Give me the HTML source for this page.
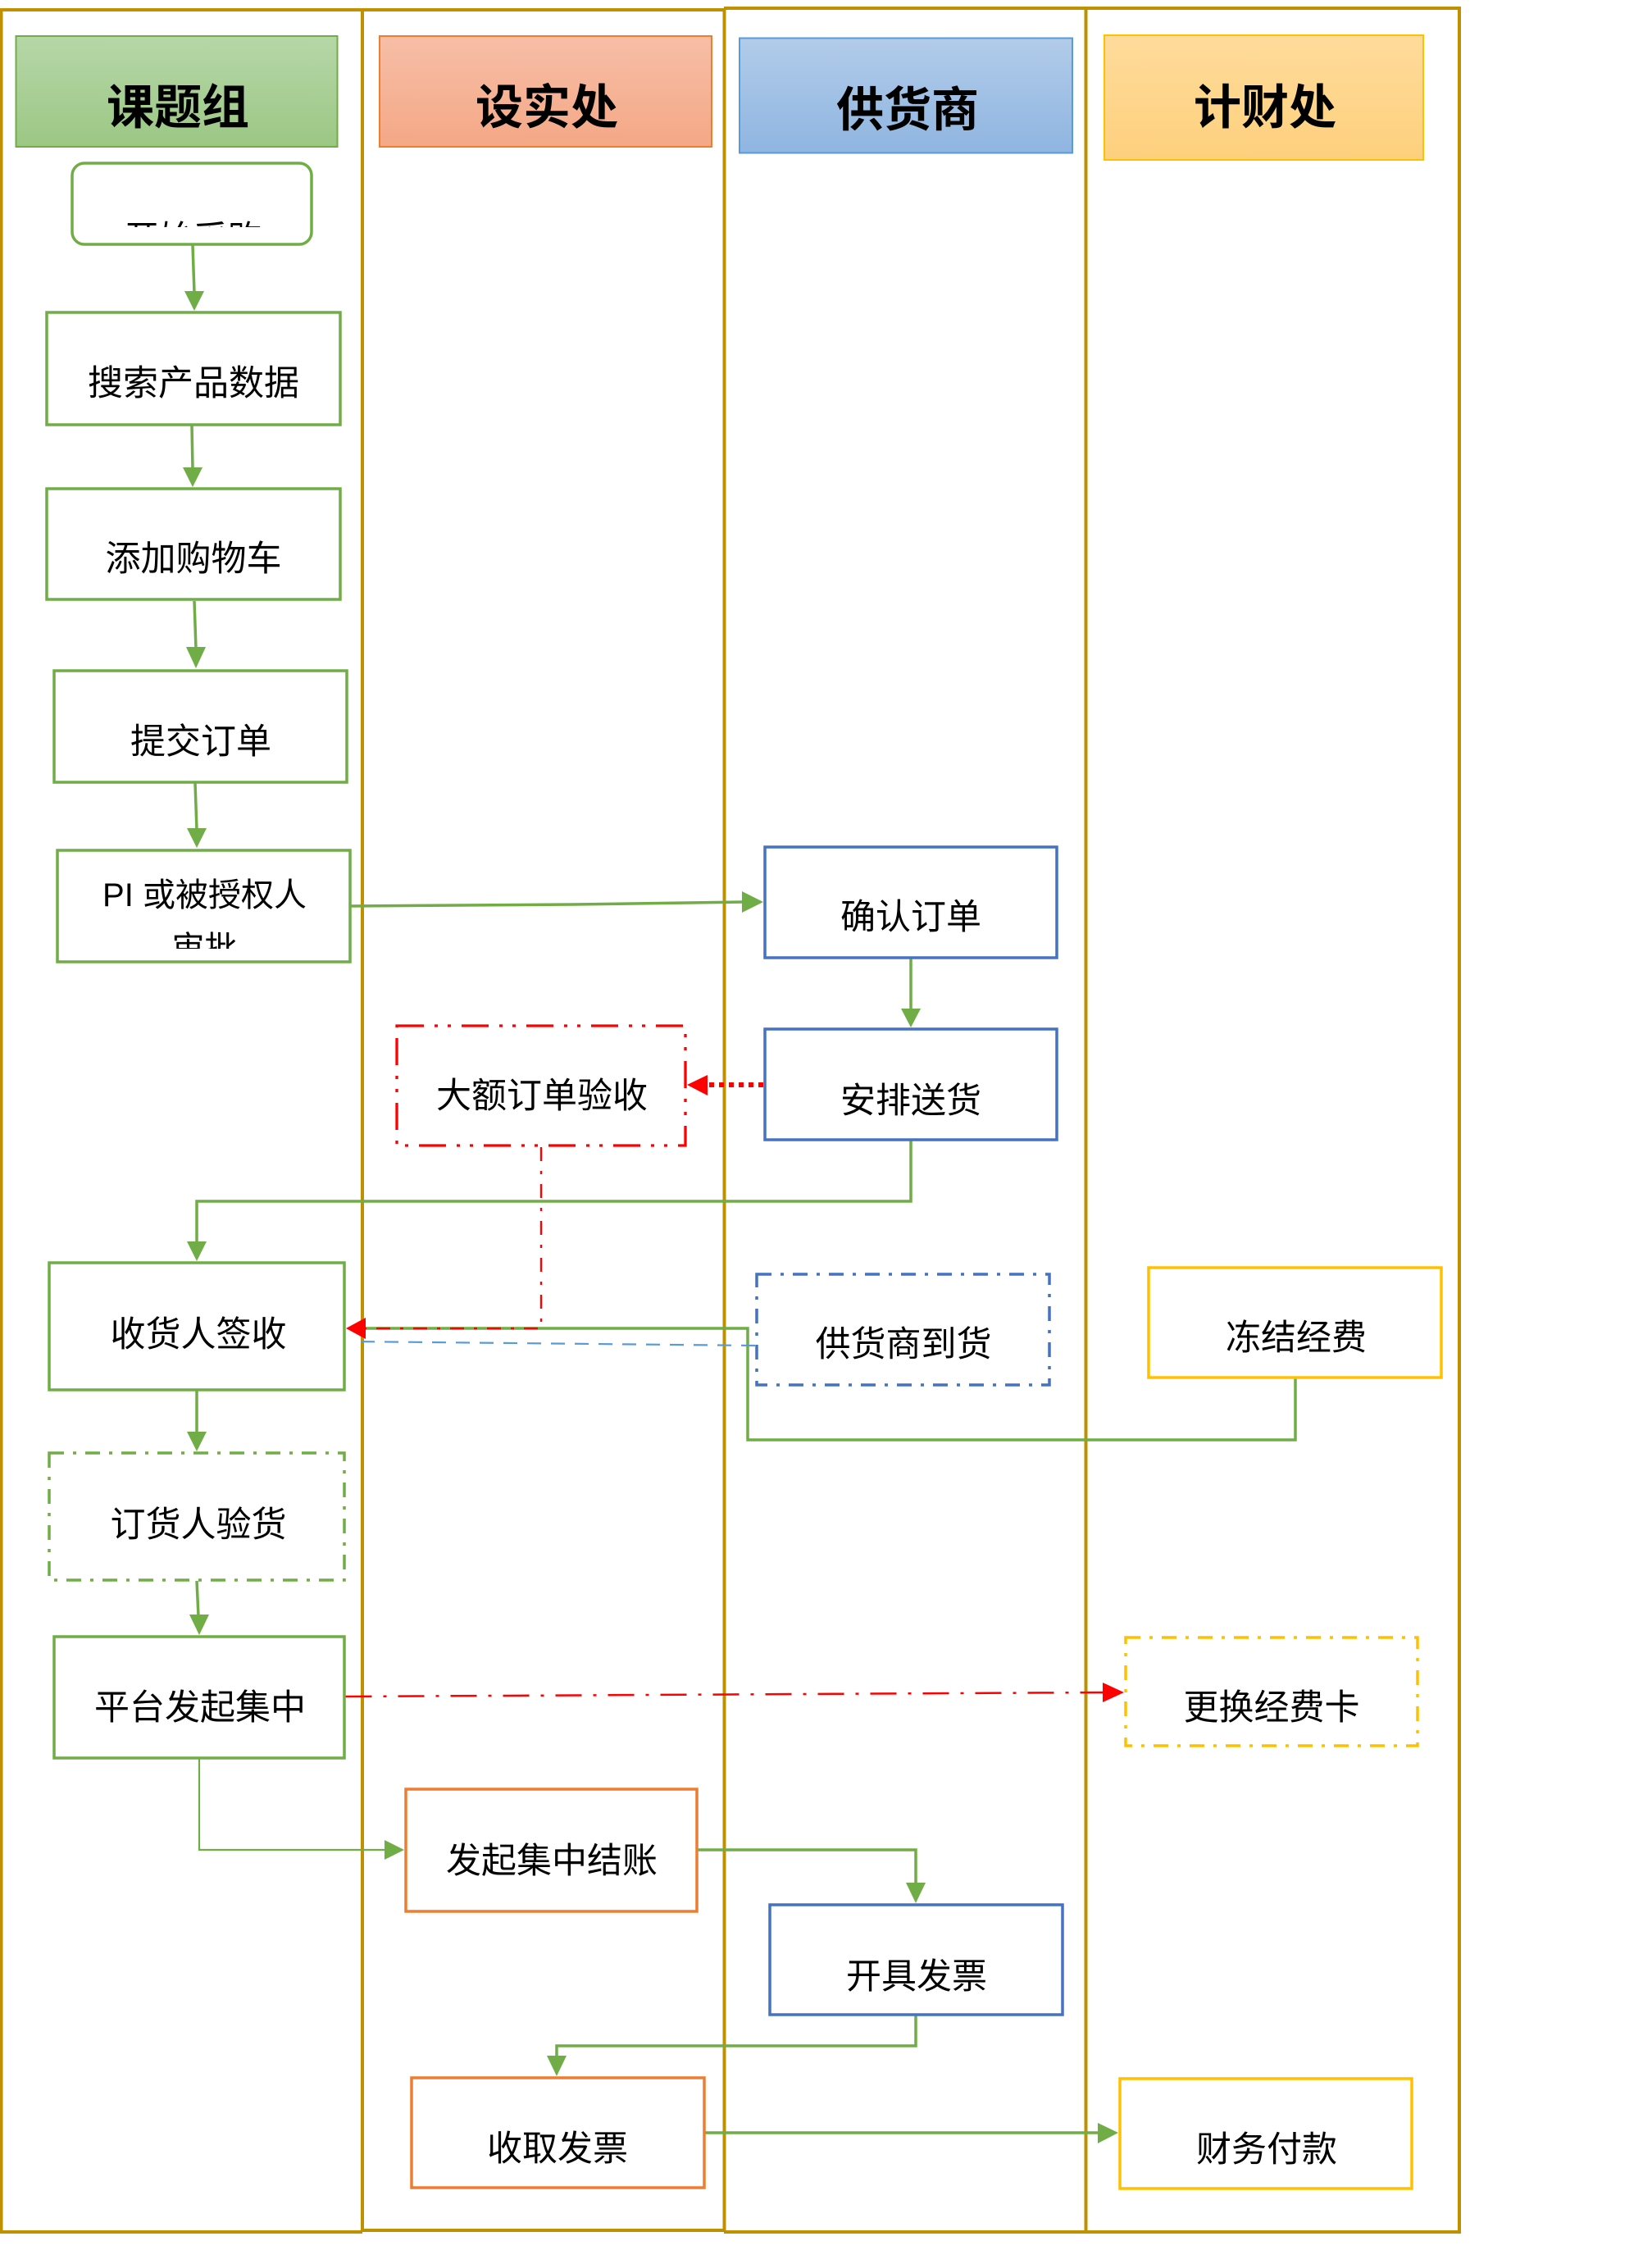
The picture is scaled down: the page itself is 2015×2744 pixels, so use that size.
<!DOCTYPE html>
<html>
<head>
<meta charset="utf-8">
<style>
html,body{margin:0;padding:0;background:#fff;}
svg{display:block;}
text{font-family:"Liberation Sans","Noto Sans CJK SC","WenQuanYi Zen Hei",sans-serif;fill:#000;}
.n{font-size:43px;}
.h{font-size:58px;font-weight:bold;}
</style>
</head>
<body>
<svg width="2015" height="2744" viewBox="0 0 2015 2744" xmlns="http://www.w3.org/2000/svg">
<defs>
<linearGradient id="gG" x1="0" y1="0" x2="0" y2="1"><stop offset="0" stop-color="#b6d7a8"/><stop offset="1" stop-color="#9cc784"/></linearGradient>
<linearGradient id="gO" x1="0" y1="0" x2="0" y2="1"><stop offset="0" stop-color="#f7bea7"/><stop offset="1" stop-color="#f4a886"/></linearGradient>
<linearGradient id="gB" x1="0" y1="0" x2="0" y2="1"><stop offset="0" stop-color="#b2cce9"/><stop offset="1" stop-color="#8fb5e1"/></linearGradient>
<linearGradient id="gY" x1="0" y1="0" x2="0" y2="1"><stop offset="0" stop-color="#ffdb9b"/><stop offset="1" stop-color="#fdd07d"/></linearGradient>
<clipPath id="cStart"><rect x="88" y="199" width="292" height="78"/></clipPath>
<clipPath id="cPI"><rect x="70" y="1037" width="357" height="120"/></clipPath>
</defs>

<rect width="2015" height="2744" fill="#fff"/>

<!-- Swimlanes -->
<g stroke="#bf9000" stroke-width="4" fill="none">
  <line x1="0" y1="12" x2="884" y2="12"/>
  <line x1="883" y1="10" x2="1782" y2="10"/>
  <line x1="1.5" y1="12" x2="1.5" y2="2722"/>
  <line x1="442" y1="12" x2="442" y2="2722"/>
  <line x1="883.5" y1="10" x2="883.5" y2="2722"/>
  <line x1="1324.5" y1="10" x2="1324.5" y2="2722"/>
  <line x1="1780" y1="10" x2="1780" y2="2722"/>
  <line x1="0" y1="2722" x2="442" y2="2722"/>
  <line x1="442" y1="2720" x2="884" y2="2720"/>
  <line x1="883" y1="2722" x2="1782" y2="2722"/>
</g>

<!-- Headers -->
<rect x="19.5" y="44" width="392" height="135" fill="url(#gG)" stroke="#70ad47" stroke-width="2"/>
<rect x="463" y="44" width="405" height="135" fill="url(#gO)" stroke="#ed7d31" stroke-width="2"/>
<rect x="902" y="46.5" width="406" height="140" fill="url(#gB)" stroke="#5b9bd5" stroke-width="2"/>
<rect x="1347" y="43" width="389" height="152" fill="url(#gY)" stroke="#ffc000" stroke-width="2"/>
<text class="h" x="217" y="151" text-anchor="middle">课题组</text>
<text class="h" x="667" y="151" text-anchor="middle">设实处</text>
<text class="h" x="1107" y="154" text-anchor="middle">供货商</text>
<text class="h" x="1543" y="151" text-anchor="middle">计财处</text>

<!-- Connectors (drawn before boxes) -->
<g fill="none" stroke="#70ad47" stroke-width="3.5">
  <line x1="235" y1="299" x2="237" y2="357"/>
  <line x1="234" y1="519" x2="235" y2="572"/>
  <line x1="237" y1="733" x2="239" y2="791"/>
  <line x1="238" y1="955" x2="240" y2="1012"/>
  <polyline points="428,1105 700,1103 907,1100"/>
  <line x1="1111" y1="1169" x2="1111" y2="1232"/>
  <polyline points="1111,1391 1111,1465 240,1465 240,1516"/>
  <polyline points="1580,1681 1580,1756 912,1756 912,1620 446,1620"/>
  <line x1="240" y1="1696" x2="240" y2="1748"/>
  <line x1="240" y1="1928" x2="242" y2="1971"/>
  <polyline points="851,2256 1117,2256 1117,2298"/>
  <polyline points="1117,2458 1117,2495 679,2495 679,2509"/>
  <polyline points="860,2601 1100,2601 1341,2601"/>
</g>
<polyline points="243,2145 243,2256 471,2256" fill="none" stroke="#70ad47" stroke-width="2.2"/>

<!-- green arrowheads -->
<g fill="#70ad47">
  <polygon points="225,355 249,355 237,379"/>
  <polygon points="223,570 247,570 235,594"/>
  <polygon points="227,789 251,789 239,815"/>
  <polygon points="228,1010 252,1010 240,1034"/>
  <polygon points="905,1087 905,1113 931,1100"/>
  <polygon points="1099,1230 1123,1230 1111,1253"/>
  <polygon points="228,1514 252,1514 240,1538"/>
  <polygon points="228,1746 252,1746 240,1770"/>
  <polygon points="231,1969 255,1969 243,1994"/>
  <polygon points="469,2244 469,2268 493,2256"/>
  <polygon points="1105,2296 1129,2296 1117,2321"/>
  <polygon points="667,2507 691,2507 679,2532"/>
  <polygon points="1339,2589 1339,2614 1364,2601"/>
</g>

<!-- blue dashed line -->
<line x1="921" y1="1641" x2="428" y2="1636" stroke="#5b9bd5" stroke-width="2.2" stroke-dasharray="17 12"/>

<!-- red connectors -->
<polyline points="660,1399 660,1620 446,1620" fill="none" stroke="#ff0000" stroke-width="2.4" stroke-dasharray="17 12 4 12"/>
<polygon points="446,1607 446,1633 422,1620" fill="#ff0000"/>
<line x1="931" y1="1323" x2="862" y2="1323" stroke="#ff0000" stroke-width="6" stroke-dasharray="6 6"/>
<polygon points="863,1311 863,1336 838,1323" fill="#ff0000"/>
<line x1="421.5" y1="2069" x2="1346" y2="2064" stroke="#ff0000" stroke-width="2.5" stroke-dasharray="32 14 4 14"/>
<polygon points="1345,2052 1345,2076 1371,2064" fill="#ff0000"/>

<!-- Start node -->
<rect x="88" y="199" width="292" height="99" rx="15" ry="15" fill="#fff" stroke="#70ad47" stroke-width="3.5"/>
<text x="236" y="305" text-anchor="middle" style="font-size:42px" clip-path="url(#cStart)">开始采购</text>

<!-- Solid boxes -->
<g fill="#fff" stroke-width="3.5">
  <rect x="57" y="381" width="358" height="137" stroke="#70ad47"/>
  <rect x="57" y="596" width="358" height="135" stroke="#70ad47"/>
  <rect x="66" y="818" width="357" height="136" stroke="#70ad47"/>
  <rect x="70" y="1037" width="357" height="136" stroke="#70ad47"/>
  <rect x="933" y="1033" width="356" height="135" stroke="#4472c4"/>
  <rect x="933" y="1255" width="356" height="135" stroke="#4472c4"/>
  <rect x="60" y="1540" width="360" height="155" stroke="#70ad47"/>
  <rect x="1401" y="1546" width="357" height="134" stroke="#ffc000"/>
  <rect x="66" y="1996" width="354" height="148" stroke="#70ad47"/>
  <rect x="495" y="2182" width="355" height="149" stroke="#ed7d31"/>
  <rect x="939" y="2323" width="357" height="134" stroke="#4472c4"/>
  <rect x="502" y="2534" width="357" height="134" stroke="#ed7d31"/>
  <rect x="1366" y="2535" width="356" height="134" stroke="#ffc000"/>
</g>

<!-- Dashed boxes -->
<rect x="484" y="1251" width="352" height="146" fill="#fff" stroke="#ff0000" stroke-width="3.3" stroke-dasharray="33 13 4 12 4 13"/>
<rect x="923" y="1554" width="357" height="135" fill="#fff" stroke="#4472c4" stroke-width="3.5" stroke-dasharray="18 11 4 11"/>
<rect x="60" y="1772" width="360" height="155" fill="#fff" stroke="#70ad47" stroke-width="3.5" stroke-dasharray="18 11 4 11"/>
<rect x="1373" y="1997" width="356" height="132" fill="#fff" stroke="#ffc000" stroke-width="3.5" stroke-dasharray="18 11 4 11"/>

<!-- Labels -->
<text class="n" x="236" y="482" text-anchor="middle">搜索产品数据</text>
<text class="n" x="236" y="696" text-anchor="middle">添加购物车</text>
<text class="n" x="245" y="919" text-anchor="middle">提交订单</text>
<g clip-path="url(#cPI)">
  <text x="249.5" y="1105" text-anchor="middle" style="font-size:40px">PI 或被授权人</text>
  <text x="249.5" y="1170" text-anchor="middle" style="font-size:40px">审批</text>
</g>
<text class="n" x="1111" y="1133" text-anchor="middle">确认订单</text>
<text class="n" x="1111" y="1357" text-anchor="middle">安排送货</text>
<text class="n" x="661" y="1351" text-anchor="middle">大额订单验收</text>
<text class="n" x="242" y="1642" text-anchor="middle">收货人签收</text>
<text class="n" x="1102" y="1654" text-anchor="middle">供货商到货</text>
<text class="n" x="1581" y="1646" text-anchor="middle">冻结经费</text>
<text class="n" x="242" y="1874" text-anchor="middle">订货人验货</text>
<text class="n" x="244" y="2097" text-anchor="middle">平台发起集中</text>
<text class="n" x="1551" y="2097" text-anchor="middle">更换经费卡</text>
<text class="n" x="673" y="2284" text-anchor="middle">发起集中结账</text>
<text class="n" x="1118" y="2425" text-anchor="middle">开具发票</text>
<text class="n" x="680" y="2635" text-anchor="middle">收取发票</text>
<text class="n" x="1545" y="2636" text-anchor="middle">财务付款</text>
</svg>
</body>
</html>
